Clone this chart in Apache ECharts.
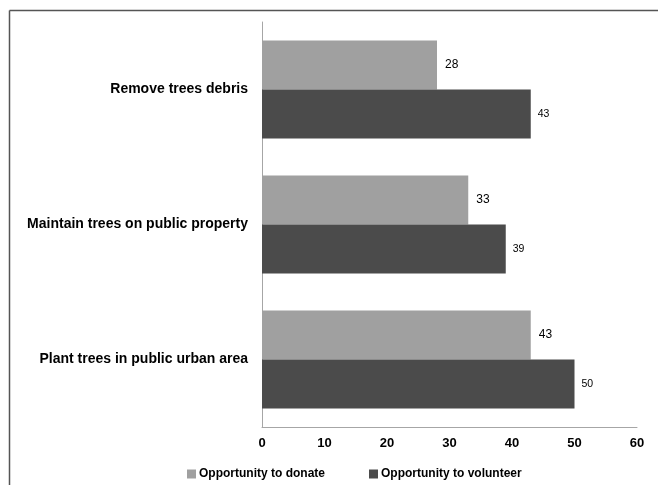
<!DOCTYPE html>
<html><head><meta charset="utf-8">
<script src="https://cdn.jsdelivr.net/npm/echarts@6/dist/echarts.min.js"></script>
<style>html,body{margin:0;padding:0;background:#fff}#c{width:658px;height:485px}</style>
</head><body><div id="c"></div>
<script>
var categories = ['Remove trees debris', 'Maintain trees on public property', 'Plant trees in public urban area'];
var donate = [28, 33, 43];
var volunteer = [43, 39, 50];
var seriesNames = ['Opportunity to donate', 'Opportunity to volunteer'];
var xTicks = [0, 10, 20, 30, 40, 50, 60];

var chart = echarts.init(document.getElementById('c'), null, {renderer: 'canvas'});
var font = 'Liberation Sans, Arial, sans-serif';
chart.setOption({
  backgroundColor: '#fff',
  animation: false,
  grid: {left: 262, right: 21, top: 22, bottom: 58},
  legend: {
    left: 182, top: 463, itemWidth: 9, itemHeight: 9, itemGap: 44,
    icon: 'rect',
    textStyle: {fontFamily: font, fontWeight: 'bold', fontSize: 12, color: '#000', padding: [0, 0, 0, -2]},
    data: seriesNames
  },
  xAxis: {
    type: 'value', min: xTicks[0], max: xTicks[xTicks.length - 1], interval: 10,
    splitLine: {show: false},
    axisLine: {show: true, lineStyle: {color: '#a6a6a6', width: 1}},
    axisTick: {show: false},
    axisLabel: {fontFamily: font, fontWeight: 'bold', fontSize: 13, color: '#000', margin: 10}
  },
  yAxis: {
    type: 'category', data: categories, inverse: true,
    axisLine: {show: true, lineStyle: {color: '#a6a6a6', width: 1}},
    axisTick: {show: false},
    axisLabel: {fontFamily: font, fontWeight: 'bold', fontSize: 14, color: '#000', margin: 14}
  },
  series: [
    {
      name: seriesNames[0], type: 'bar', data: donate, barGap: '0%', barCategoryGap: '27.5%',
      itemStyle: {color: '#a0a0a0'},
      label: {show: true, position: 'right', distance: 8, fontFamily: font, fontSize: 12, color: '#000'}
    },
    {
      name: seriesNames[1], type: 'bar', data: volunteer, barGap: '0%', barCategoryGap: '27.5%',
      itemStyle: {color: '#4b4b4b'},
      label: {show: true, position: 'right', distance: 7, fontFamily: font, fontSize: 10.5, color: '#000'}
    }
  ],
  graphic: [
    {type: 'line', shape: {x1: 9.5, y1: 10.5, x2: 658, y2: 10.5}, style: {stroke: '#555', lineWidth: 1.5}},
    {type: 'line', shape: {x1: 9.5, y1: 10.5, x2: 9.5, y2: 485}, style: {stroke: '#555', lineWidth: 1.5}}
  ]
});
</script></body></html>
